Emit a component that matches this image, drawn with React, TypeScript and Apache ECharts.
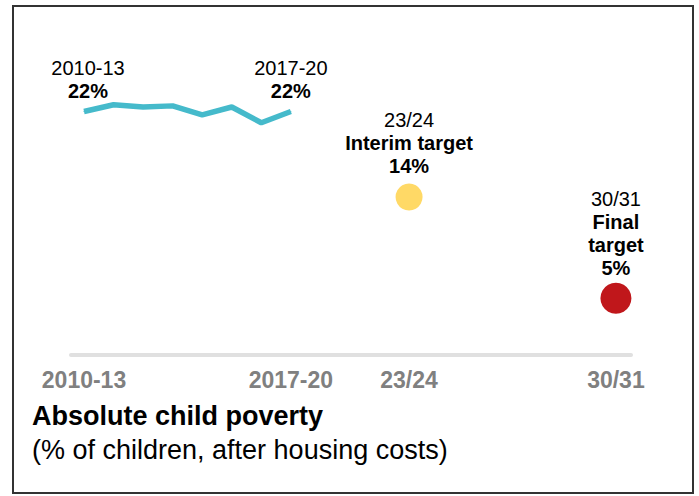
import React, { useEffect, useRef } from "react";
import * as echarts from "echarts";

const periods = ["2010-13", "2011-14", "2012-15", "2013-16", "2014-17", "2015-18", "2016-19", "2017-20"];
const periodYears = [2012, 2013, 2014, 2015, 2016, 2017, 2018, 2019];
const povertyRates = [21.6, 22.2, 22.0, 22.1, 21.3, 22.0, 20.6, 21.6];

const targetPeriods = ["23/24", "30/31"];
const targetYears = [2023, 2030];
const targetNames = ["Interim target", "Final\ntarget"];
const targetRates = [14, 5];

const axisLabelYears = [2012, 2019, 2023, 2030];
const axisLabelTexts = ["2010-13", "2017-20", "23/24", "30/31"];

const FONT = "'Liberation Sans', Arial, Helvetica, sans-serif";

export default function App() {
  const ref = useRef<HTMLDivElement>(null);
  useEffect(() => {
    if (!ref.current) return;
    const chart = echarts.init(ref.current, undefined, { renderer: "svg" });
    const lastIdx = periods.length - 1;
    const lineData = periodYears.map((yr, i) => {
      const item: any = { value: [yr, povertyRates[i]] };
      if (i === 0) item.label = { show: true, offset: [4, 0] };
      if (i === lastIdx) item.label = { show: true };
      return item;
    });
    const targetColors = ["#FFD966", "#C0171B"];
    const targetSizes = [27, 31];
    const targetLabelDist = [6, 3];
    const scatterData = targetYears.map((yr, i) => ({
      value: [yr, targetRates[i]],
      symbolSize: targetSizes[i],
      itemStyle: { color: targetColors[i], opacity: 1 },
      label: { distance: targetLabelDist[i] },
    }));
    const rich = {
      p: { fontSize: 20, fontFamily: FONT, color: "#000", lineHeight: 23, align: "center" },
      b: { fontSize: 20, fontFamily: FONT, fontWeight: "bold", color: "#000", lineHeight: 23, align: "center" },
    };
    chart.setOption({
      animation: false,
      backgroundColor: "#fff",
      grid: { left: 71, right: 68, top: 73.25, bottom: 141.5 },
      title: [
        {
          text: "Absolute child poverty",
          left: 32,
          top: 402,
          padding: 0,
          textStyle: { fontSize: 27, fontWeight: "bold", color: "#000", fontFamily: FONT },
        },
        {
          text: "(% of children, after housing costs)",
          left: 32,
          top: 436,
          padding: 0,
          textStyle: { fontSize: 27, fontWeight: "normal", color: "#000", fontFamily: FONT },
        },
      ],
      xAxis: {
        type: "value",
        min: 2011.56,
        max: 2030.51,
        splitLine: { show: false },
        axisTick: { show: false },
        axisLine: { show: true, lineStyle: { color: "#e0e0e0", width: 4 } },
        axisLabel: {
          customValues: axisLabelYears,
          formatter: (v: number) => {
            const i = axisLabelYears.indexOf(Math.round(v));
            return i >= 0 ? axisLabelTexts[i] : "";
          },
          margin: 14,
          fontSize: 23,
          fontWeight: "bold",
          color: "#808080",
          fontFamily: FONT,
        },
      },
      yAxis: {
        type: "value",
        min: 0,
        max: 25,
        show: false,
        splitLine: { show: false },
      },
      graphic: [
        {
          type: "rect",
          shape: { x: 13, y: 6, width: 680, height: 487 },
          style: { fill: "none", stroke: "#333", lineWidth: 2 },
          silent: true,
        },
      ],
      series: [
        {
          type: "line",
          data: lineData,
          symbol: "circle",
          symbolSize: 1,
          showSymbol: true,
          itemStyle: { color: "#45BACB" },
          clip: false,
          lineStyle: { color: "#45BACB", width: 5.5 },
          label: {
            show: false,
            position: "top",
            distance: 9,
            color: "#000",
            formatter: (p: any) => `{p|${periods[p.dataIndex]}}\n{b|${Math.round(p.value[1])}%}`,
            rich,
          },
        },
        {
          type: "scatter",
          data: scatterData,
          clip: false,
          label: {
            show: true,
            position: "top",
            color: "#000",
            formatter: (p: any) => {
              const i = p.dataIndex;
              const nameLines = targetNames[i].split("\n").map((s) => `{b|${s}}`).join("\n");
              return `{p|${targetPeriods[i]}}\n${nameLines}\n{b|${targetRates[i]}%}`;
            },
            rich,
          },
        },
      ],
    });
    return () => chart.dispose();
  }, []);
  return (
    <div
      ref={ref}
      style={{ position: "fixed", left: 0, top: 0, width: 699, height: 496 }}
    />
  );
}
